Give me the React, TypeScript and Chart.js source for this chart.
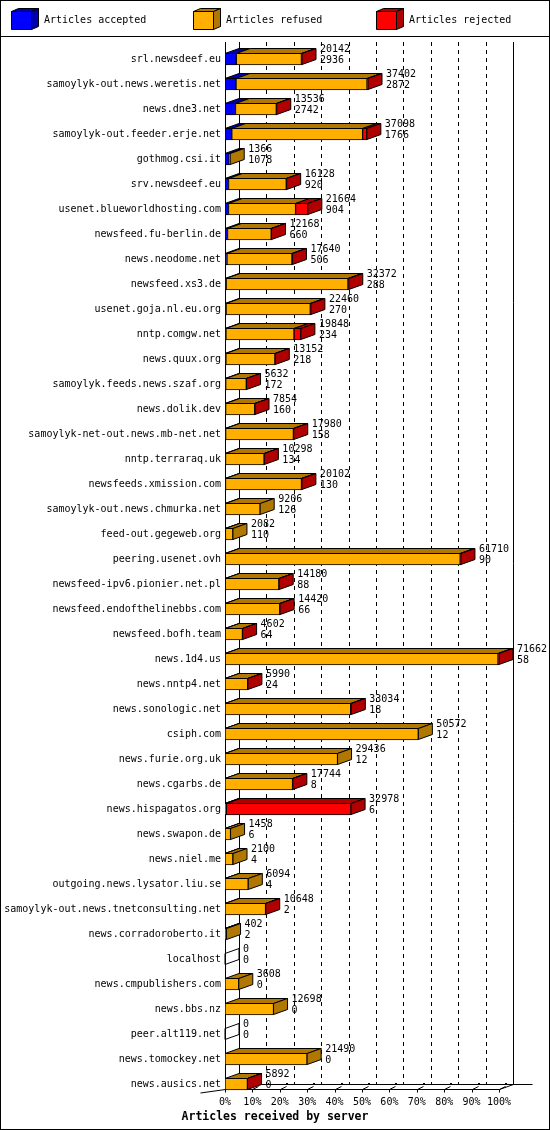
import React, { useEffect, useRef } from 'react';
import { Chart, registerables } from 'chart.js';

Chart.register(...registerables);

// ---------------- data ----------------
const categories = [
  'srl.newsdeef.eu',
  'samoylyk-out.news.weretis.net',
  'news.dne3.net',
  'samoylyk-out.feeder.erje.net',
  'gothmog.csi.it',
  'srv.newsdeef.eu',
  'usenet.blueworldhosting.com',
  'newsfeed.fu-berlin.de',
  'news.neodome.net',
  'newsfeed.xs3.de',
  'usenet.goja.nl.eu.org',
  'nntp.comgw.net',
  'news.quux.org',
  'samoylyk.feeds.news.szaf.org',
  'news.dolik.dev',
  'samoylyk-net-out.news.mb-net.net',
  'nntp.terraraq.uk',
  'newsfeeds.xmission.com',
  'samoylyk-out.news.chmurka.net',
  'feed-out.gegeweb.org',
  'peering.usenet.ovh',
  'newsfeed-ipv6.pionier.net.pl',
  'newsfeed.endofthelinebbs.com',
  'newsfeed.bofh.team',
  'news.1d4.us',
  'news.nntp4.net',
  'news.sonologic.net',
  'csiph.com',
  'news.furie.org.uk',
  'news.cgarbs.de',
  'news.hispagatos.org',
  'news.swapon.de',
  'news.niel.me',
  'outgoing.news.lysator.liu.se',
  'samoylyk-out.news.tnetconsulting.net',
  'news.corradoroberto.it',
  'localhost',
  'news.cmpublishers.com',
  'news.bbs.nz',
  'peer.alt119.net',
  'news.tomockey.net',
  'news.ausics.net',
];

const totalArticles = [
  20142, 37402, 13536, 37098, 1366, 16128, 21664, 12168, 17640, 32372,
  22460, 19848, 13152, 5632, 7854, 17980, 10298, 20102, 9206, 2082,
  61710, 14180, 14420, 4602, 71662, 5990, 33034, 50572, 29436, 17744,
  32978, 1458, 2100, 6094, 10648, 402, 0, 3608, 12698, 0,
  21490, 5892,
];

const acceptedArticles = [
  2936, 2872, 2742, 1766, 1078, 920, 904, 660, 506, 288,
  270, 234, 218, 172, 160, 158, 134, 130, 126, 110,
  90, 88, 66, 64, 58, 24, 18, 12, 12, 8,
  6, 6, 4, 4, 2, 2, 0, 0, 0, 0,
  0, 0,
];

const rejectedArticles = [
  150, 250, 120, 1100, 0, 100, 3200, 80, 120, 200,
  150, 1800, 80, 50, 60, 90, 60, 100, 0, 0,
  200, 80, 80, 40, 250, 40, 150, 0, 0, 80,
  32622, 0, 0, 0, 40, 0, 0, 0, 0, 0,
  0, 30,
];

const refusedArticles = totalArticles.map(
  (t, i) => t - acceptedArticles[i] - rejectedArticles[i]
);

const xTickLabels = ['0%', '10%', '20%', '30%', '40%', '50%', '60%', '70%', '80%', '90%', '100%'];
const seriesNames = ['Articles accepted', 'Articles refused', 'Articles rejected'];
const axisTitle = 'Articles received by server';

// ---------------- style ----------------
const W = 550;
const H = 1130;
const FONT = '"DejaVu Sans Mono", "Liberation Mono", monospace';
const FRONT = ['#0000FF', '#FFAF00', '#FF0000'];
const DARK = ['#0000B0', '#B07800', '#B00000'];
const DX = 14;
const DY = 5;
const LEGEND_X = [11, 193, 376];
const MAX = Math.max(...totalArticles);

function poly(ctx: CanvasRenderingContext2D, pts: number[][], fill: string | null) {
  ctx.beginPath();
  ctx.moveTo(pts[0][0], pts[0][1]);
  for (let i = 1; i < pts.length; i++) ctx.lineTo(pts[i][0], pts[i][1]);
  ctx.closePath();
  if (fill) {
    ctx.fillStyle = fill;
    ctx.fill();
  }
  ctx.stroke();
}

function seg(ctx: CanvasRenderingContext2D, x1: number, y1: number, x2: number, y2: number) {
  ctx.beginPath();
  ctx.moveTo(x1, y1);
  ctx.lineTo(x2, y2);
  ctx.stroke();
}

const threeD = {
  id: 'threeD',
  beforeDraw(chart: any) {
    const ctx = chart.ctx;
    ctx.save();
    ctx.fillStyle = '#FFFFFF';
    ctx.fillRect(0, 0, W, H);
    ctx.restore();
  },
  beforeDatasetsDraw(chart: any) {
    const ctx: CanvasRenderingContext2D = chart.ctx;
    const xs = chart.scales.x;
    const area = chart.chartArea;
    const top = Math.round(area.top - 4.5);
    const floorF = Math.round(area.bottom - 6.5) - 0.5;
    const floorB = floorF - DY;
    ctx.save();
    ctx.strokeStyle = '#000';
    ctx.lineWidth = 1;
    // back wall grid lines
    const n = xs.ticks.length;
    xs.ticks.forEach((t: any, i: number) => {
      const px = Math.round(xs.getPixelForValue(t.value) + DX) + 0.5;
      ctx.setLineDash(i === 0 || i === n - 1 ? [] : [4, 4]);
      seg(ctx, px, top, px, floorB);
    });
    ctx.setLineDash([]);
    const xl = Math.round(xs.getPixelForValue(0)) + 0.5;
    const xr = Math.round(xs.getPixelForValue(MAX)) + 0.5;
    // front-left edge
    seg(ctx, xl, top, xl, floorF);
    // floor
    seg(ctx, xl, floorF, xr, floorF);
    seg(ctx, xr, floorF, xr + DX, floorB);
    seg(ctx, xl + DX, floorB, xr + DX + 19, floorB);
    seg(ctx, xl - 25, floorF + 3.5, xl, floorF);
    // tick marks
    xs.ticks.forEach((t: any) => {
      const px = Math.round(xs.getPixelForValue(t.value)) + 0.5;
      seg(ctx, px, floorF, px, floorF + 3);
      seg(ctx, px, floorF, px + 6, floorF - 3);
      ctx.fillStyle = '#000';
      ctx.fillRect(px + 5.5, floorB - 1.5, 2, 2);
    });
    ctx.restore();
  },
  afterDatasetsDraw(chart: any) {
    const ctx: CanvasRenderingContext2D = chart.ctx;
    const metas = [0, 1, 2].map((d) => chart.getDatasetMeta(d));
    const values = [acceptedArticles, refusedArticles, rejectedArticles];
    ctx.save();
    ctx.strokeStyle = '#000';
    ctx.lineWidth = 1;
    ctx.lineJoin = 'miter';
    categories.forEach((_, i) => {
      const els = metas.map((m: any) => m.data[i]);
      const yc = els[0].y;
      const h = els[0].height;
      const yT = Math.round(yc - h / 2) + 0.5;
      const yB = Math.round(yc + h / 2) - 0.5;
      let last = -1;
      for (let d = 0; d < 3; d++) {
        const v = values[d][i];
        if (v <= 0) continue;
        const xa = els[d].base;
        const xb = els[d].x;
        poly(ctx, [[xa, yT], [xb, yT], [xb + DX, yT - DY], [xa + DX, yT - DY]], DARK[d]);
        last = d;
      }
      const xEnd = els[2].x;
      poly(
        ctx,
        [[xEnd, yT], [xEnd + DX, yT - DY], [xEnd + DX, yB - DY], [xEnd, yB]],
        last >= 0 ? DARK[last] : null
      );
      // value labels
      ctx.fillStyle = '#000';
      ctx.font = `10px ${FONT}`;
      ctx.textAlign = 'left';
      ctx.textBaseline = 'middle';
      ctx.fillText(String(totalArticles[i]), xEnd + 18, yc - 9.5);
      ctx.fillText(String(acceptedArticles[i]), xEnd + 18, yc + 1.5);
    });
    ctx.restore();
  },
  afterDraw(chart: any) {
    const ctx: CanvasRenderingContext2D = chart.ctx;
    ctx.save();
    ctx.strokeStyle = '#000';
    ctx.lineWidth = 1;
    // outer frame and legend separator
    ctx.strokeRect(0.5, 0.5, W - 1, H - 1);
    seg(ctx, 0, 36.5, W, 36.5);
    // legend
    seriesNames.forEach((name, k) => {
      const bx = LEGEND_X[k] + 0.5;
      const by = 11.5;
      const bw = 20;
      const bh = 18;
      poly(ctx, [[bx, by], [bx + bw, by], [bx + bw, by + bh], [bx, by + bh]], FRONT[k]);
      poly(ctx, [[bx, by], [bx + bw, by], [bx + bw + 7, by - 3], [bx + 7, by - 3]], DARK[k]);
      poly(ctx, [[bx + bw, by], [bx + bw + 7, by - 3], [bx + bw + 7, by + bh - 3], [bx + bw, by + bh]], DARK[k]);
      ctx.fillStyle = '#000';
      ctx.font = `10px ${FONT}`;
      ctx.textAlign = 'left';
      ctx.textBaseline = 'middle';
      ctx.fillText(name, LEGEND_X[k] + 33, 20.5);
    });
    // axis title
    ctx.fillStyle = '#000';
    ctx.font = `bold 11.5px ${FONT}`;
    ctx.textAlign = 'center';
    ctx.textBaseline = 'middle';
    ctx.fillText(axisTitle, W / 2, 1117);
    ctx.restore();
  },
};

export default function App() {
  const ref = useRef<HTMLCanvasElement | null>(null);

  useEffect(() => {
    if (!ref.current) return;
    const chart = new Chart(ref.current, {
      type: 'bar',
      data: {
        labels: categories,
        datasets: [
          { label: seriesNames[0], data: acceptedArticles, backgroundColor: FRONT[0] },
          { label: seriesNames[1], data: refusedArticles, backgroundColor: FRONT[1] },
          { label: seriesNames[2], data: rejectedArticles, backgroundColor: FRONT[2] },
        ].map((ds) => ({
          ...ds,
          borderColor: '#000',
          borderWidth: 1,
          borderSkipped: false,
          barThickness: 12,
        })),
      },
      options: {
        indexAxis: 'y',
        responsive: false,
        animation: false,
        devicePixelRatio: 1,
        layout: { padding: { left: 5, right: 51, top: 46.5, bottom: 0 } },
        plugins: {
          legend: { display: false },
          tooltip: { enabled: false },
          title: { display: false },
        },
        scales: {
          x: {
            stacked: true,
            min: 0,
            max: MAX,
            grid: { display: false, drawTicks: false },
            border: { display: false },
            afterBuildTicks: (scale: any) => {
              scale.ticks = xTickLabels.map((_, i) => ({
                value: (MAX * i) / (xTickLabels.length - 1),
              }));
            },
            afterFit: (scale: any) => {
              scale.height = 33.5;
            },
            ticks: {
              callback: (_v: any, i: number) => xTickLabels[i],
              font: { family: FONT, size: 10 },
              color: '#000',
              padding: 0,
              autoSkip: false,
              maxRotation: 0,
              minRotation: 0,
            },
          },
          y: {
            stacked: true,
            grid: { display: false, drawTicks: false },
            border: { display: false },
            afterFit: (scale: any) => {
              scale.width = 220;
            },
            ticks: {
              font: { family: FONT, size: 10 },
              color: '#000',
              padding: 4,
              autoSkip: false,
            },
          },
        },
      } as any,
      plugins: [threeD as any],
    });
    return () => chart.destroy();
  }, []);

  return (
    <div style={{ position: 'absolute', left: 0, top: 0, width: W, height: H }}>
      <canvas ref={ref} width={W} height={H} style={{ display: 'block' }} />
    </div>
  );
}
